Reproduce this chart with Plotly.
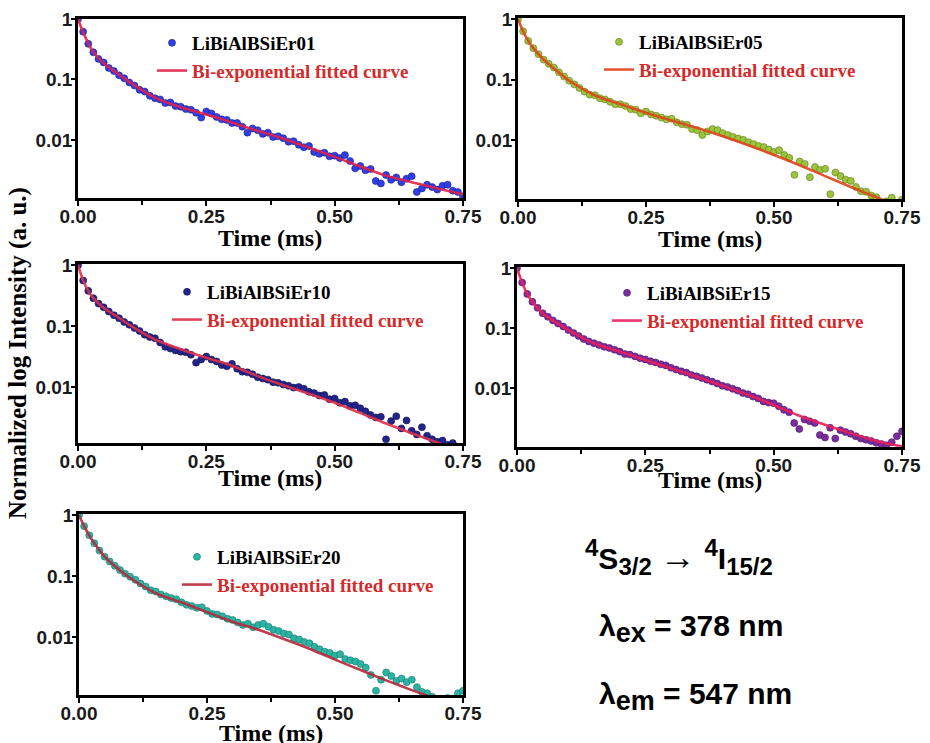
import plotly.graph_objects as go

W, H = 930, 743

# ---------------------------------------------------------------- data
time_ms = [
    0.00, 0.01, 0.02, 0.03, 0.04, 0.05, 0.06, 0.07, 0.08, 0.09,
    0.10, 0.11, 0.12, 0.13, 0.14, 0.15, 0.16, 0.17, 0.18, 0.19,
    0.20, 0.21, 0.22, 0.23, 0.24, 0.25, 0.26, 0.27, 0.28, 0.29,
    0.30, 0.31, 0.32, 0.33, 0.34, 0.35, 0.36, 0.37, 0.38, 0.39,
    0.40, 0.41, 0.42, 0.43, 0.44, 0.45, 0.46, 0.47, 0.48, 0.49,
    0.50, 0.51, 0.52, 0.53, 0.54, 0.55, 0.56, 0.57, 0.58, 0.59,
    0.60, 0.61, 0.62, 0.63, 0.64, 0.65, 0.66, 0.67, 0.68, 0.69,
    0.70, 0.71, 0.72, 0.73, 0.74, 0.75,
]

fit_time_ms = [0.0, 0.01, 0.02, 0.03, 0.05, 0.075, 0.10, 0.15, 0.20, 0.25,
               0.30, 0.35, 0.40, 0.45, 0.50, 0.55, 0.60, 0.65, 0.70, 0.75]

samples = ["LiBiAlBSiEr01", "LiBiAlBSiEr05", "LiBiAlBSiEr10",
           "LiBiAlBSiEr15", "LiBiAlBSiEr20"]
fit_label = "Bi-exponential fitted curve"

# normalised decay intensities (a. u.)
er01 = [1.0, 0.617, 0.389, 0.282, 0.219, 0.191, 0.155, 0.138, 0.117, 0.105,
        0.0891, 0.0794, 0.0676, 0.0631, 0.0537, 0.0490, 0.0468, 0.0407, 0.0417, 0.0363,
        0.0355, 0.0324, 0.0316, 0.0282, 0.0234, 0.0295, 0.0275, 0.0240, 0.0219, 0.0214,
        0.0191, 0.0191, 0.0166, 0.0132, 0.0155, 0.0145, 0.0126, 0.0132, 0.0112, 0.0115,
        0.0107, 0.00933, 0.00955, 0.00832, 0.00759, 0.00794, 0.00631, 0.00589, 0.00617, 0.00537,
        0.00550, 0.00501, 0.00562, 0.00447, 0.00339, 0.00372, 0.00316, 0.00331, 0.00209, 0.00191,
        0.00263, 0.00219, 0.00240, 0.00200, 0.00229, 0.00251, 0.00138, 0.00158, 0.00182, 0.00166,
        0.00151, 0.00174, 0.00182, 0.00145, 0.00138, 0.00117]

er05 = [1.0, 0.631, 0.437, 0.331, 0.263, 0.214, 0.182, 0.158, 0.132, 0.112,
        0.0955, 0.0832, 0.0724, 0.0631, 0.0562, 0.0550, 0.0490, 0.0468, 0.0427, 0.0389,
        0.0389, 0.0363, 0.0324, 0.0316, 0.0275, 0.0295, 0.0263, 0.0251, 0.0234, 0.0219,
        0.0224, 0.0195, 0.0182, 0.0178, 0.0151, 0.0145, 0.0120, 0.0138, 0.0151, 0.0145,
        0.0129, 0.0120, 0.0112, 0.0105, 0.0100, 0.00912, 0.00851, 0.00794, 0.00759, 0.00692,
        0.00631, 0.00676, 0.00562, 0.00501, 0.00263, 0.00437, 0.00398, 0.00240, 0.00355, 0.00316,
        0.00331, 0.00126, 0.00288, 0.00251, 0.00219, 0.00209, 0.00166, 0.00141, 0.00138, 0.00120,
        0.00112, 0.000891, 0.000955, 0.00110, 0.000794, 0.00102]

er10 = [1.0, 0.562, 0.380, 0.288, 0.234, 0.204, 0.174, 0.151, 0.135, 0.117,
        0.105, 0.0933, 0.0832, 0.0724, 0.0661, 0.0631, 0.0537, 0.0457, 0.0427, 0.0398,
        0.0380, 0.0372, 0.0339, 0.0251, 0.0282, 0.0316, 0.0282, 0.0263, 0.0229, 0.0219,
        0.0240, 0.0200, 0.0178, 0.0174, 0.0162, 0.0145, 0.0138, 0.0132, 0.0120, 0.0117,
        0.0110, 0.0105, 0.00977, 0.0100, 0.00933, 0.00832, 0.00794, 0.00724, 0.00741, 0.00631,
        0.00646, 0.00550, 0.00575, 0.00490, 0.00501, 0.00447, 0.00398, 0.00347, 0.00316, 0.00324,
        0.00138, 0.00275, 0.00331, 0.00209, 0.00282, 0.00191, 0.00166, 0.00219, 0.00158, 0.00138,
        0.00126, 0.00132, 0.00112, 0.00120, 0.00100, 0.000891]

er15 = [1.0, 0.575, 0.372, 0.275, 0.219, 0.178, 0.155, 0.135, 0.120, 0.107,
        0.0933, 0.0832, 0.0741, 0.0661, 0.0603, 0.0562, 0.0525, 0.0490, 0.0468, 0.0437,
        0.0407, 0.0372, 0.0363, 0.0339, 0.0316, 0.0302, 0.0282, 0.0269, 0.0251, 0.0240,
        0.0219, 0.0204, 0.0191, 0.0182, 0.0166, 0.0158, 0.0148, 0.0138, 0.0129, 0.0120,
        0.0110, 0.0105, 0.00977, 0.00912, 0.00832, 0.00794, 0.00724, 0.00676, 0.00603, 0.00575,
        0.00562, 0.00501, 0.00437, 0.00398, 0.00263, 0.00209, 0.00302, 0.00282, 0.00263, 0.00166,
        0.00151, 0.00219, 0.00145, 0.00200, 0.00186, 0.00174, 0.00158, 0.00145, 0.00138, 0.00132,
        0.00123, 0.00117, 0.00112, 0.00126, 0.00158, 0.00191]

er20 = [1.0, 0.661, 0.468, 0.347, 0.263, 0.209, 0.174, 0.148, 0.126, 0.110,
        0.0977, 0.0871, 0.0759, 0.0676, 0.0589, 0.0562, 0.0501, 0.0468, 0.0437, 0.0417,
        0.0372, 0.0339, 0.0324, 0.0302, 0.0309, 0.0269, 0.0240, 0.0234, 0.0219, 0.0200,
        0.0191, 0.0174, 0.0158, 0.0166, 0.0145, 0.0158, 0.0166, 0.0148, 0.0132, 0.0126,
        0.0115, 0.0110, 0.00955, 0.00912, 0.00832, 0.00794, 0.00692, 0.00631, 0.00575, 0.00550,
        0.00501, 0.00525, 0.00437, 0.00417, 0.00398, 0.00363, 0.00316, 0.00240, 0.00132, 0.00200,
        0.00263, 0.00229, 0.00191, 0.00209, 0.00182, 0.00200, 0.00151, 0.00126, 0.00120, 0.00105,
        0.000955, 0.000891, 0.00100, 0.000955, 0.00120, 0.00132]

# bi-exponential fits evaluated on fit_time_ms
fit_er01 = [1.0, 0.603, 0.398, 0.282, 0.186, 0.129, 0.0912, 0.0501, 0.0347, 0.0263,
            0.0195, 0.0141, 0.0105, 0.00741, 0.00525, 0.00363, 0.00257, 0.00200, 0.00158, 0.00126]
fit_er05 = [1.0, 0.631, 0.437, 0.331, 0.214, 0.141, 0.0955, 0.0550, 0.0389, 0.0282,
            0.0209, 0.0158, 0.0115, 0.00813, 0.00562, 0.00380, 0.00251, 0.00166, 0.00112, 0.000759]
fit_er10 = [1.0, 0.562, 0.380, 0.288, 0.200, 0.145, 0.105, 0.0603, 0.0417, 0.0302,
            0.0224, 0.0151, 0.0107, 0.00776, 0.00550, 0.00372, 0.00251, 0.00174, 0.00123, 0.000891]
fit_er15 = [1.0, 0.575, 0.372, 0.275, 0.178, 0.126, 0.0933, 0.0562, 0.0407, 0.0295,
            0.0214, 0.0155, 0.0110, 0.00776, 0.00525, 0.00347, 0.00245, 0.00178, 0.00132, 0.00107]
fit_er20 = [1.0, 0.661, 0.468, 0.347, 0.209, 0.135, 0.0933, 0.0525, 0.0372, 0.0257,
            0.0178, 0.0132, 0.00933, 0.00646, 0.00427, 0.00288, 0.00195, 0.00135, 0.000955, 0.000661]

measured = [er01, er05, er10, er15, er20]
fitted = [fit_er01, fit_er05, fit_er10, fit_er15, fit_er20]

x_tick_vals = [0.0, 0.25, 0.50, 0.75]
x_tick_text = ["0.00", "0.25", "0.50", "0.75"]
x_minor_vals = [0.125, 0.375, 0.625]
y_tick_vals = [0.01, 0.1, 1]
y_tick_text = ["0.01", "0.1", "1"]

# ---------------------------------------------------------------- layout
# panel frames in pixels: left, top, right, bottom
frames = [(78, 19, 463, 198), (518, 18, 902, 199), (78, 264, 463, 443),
          (517, 267, 902, 447), (79, 514, 463, 695)]
y_ranges = [(-2.96, 0.0), (-2.98, 0.02), (-2.92, 0.02), (-2.98, 0.02), (-2.95, 0.02)]
marker_colors = ["#2f3fe6", "#9cc43a", "#22268c", "#7a2e9e", "#2db3a3"]
marker_edges = ["#1a1f8a", "#5d7a1c", "#10124a", "#4a1566", "#147a6e"]
fit_colors = ["#e0224a", "#e0441e", "#e0304a", "#ea1f5c", "#b8283a"]
# legend anchor (left, top) in pixels
legend_px = [(152, 24), (599, 23), (167, 273), (607, 274), (177, 538)]
# centre of the "Time (ms)" titles in pixels
xtitle_px = [(270, 238), (710, 239), (270, 478), (710, 480), (271, 733)]

SERIF = "Liberation Serif"
SANS = "Liberation Sans"
LEGEND_RED = "#d42a2a"


def fx(p):
    return p / W


def fy(p):
    return 1 - p / H


fig = go.Figure()
layout = dict(
    width=W, height=H,
    margin=dict(l=0, r=0, t=0, b=0, autoexpand=False),
    paper_bgcolor="white", plot_bgcolor="white",
    showlegend=True,
)

annotations = []
for i in range(5):
    n = "" if i == 0 else str(i + 1)
    xa_name, ya_name = "x" + n, "y" + n
    leg = "legend" + n
    left, top, right, bottom = frames[i]

    fig.add_trace(go.Scatter(
        x=time_ms, y=measured[i], mode="markers", name=samples[i],
        marker=dict(size=7, color=marker_colors[i],
                    line=dict(width=0.6, color=marker_edges[i])),
        xaxis=xa_name, yaxis=ya_name, legend=leg,
    ))
    fig.add_trace(go.Scatter(
        x=fit_time_ms, y=fitted[i], mode="lines",
        name=f'<span style="color:{LEGEND_RED}">{fit_label}</span>',
        line=dict(color=fit_colors[i], width=2.6, shape="spline", smoothing=0.8),
        opacity=0.9,
        xaxis=xa_name, yaxis=ya_name, legend=leg,
    ))

    layout["xaxis" + n] = dict(
        domain=[fx(left), fx(right)], anchor=ya_name,
        range=[0, 0.75], tickmode="array", tickvals=x_tick_vals, ticktext=x_tick_text,
        ticks="outside", ticklen=5, tickwidth=2, tickcolor="black",
        ticklabelstandoff=-6,
        minor=dict(tickmode="array", tickvals=x_minor_vals, ticks="outside",
                   ticklen=4, tickwidth=2, tickcolor="black", showgrid=False),
        showline=True, mirror=True, linewidth=2.5, linecolor="black",
        showgrid=False, zeroline=False,
        tickfont=dict(family=SANS, size=19, weight="bold", color="#1a1a1a"),
    )
    layout["yaxis" + n] = dict(
        domain=[fy(bottom), fy(top)], anchor=xa_name,
        type="log", range=list(y_ranges[i]),
        tickmode="array", tickvals=y_tick_vals, ticktext=y_tick_text,
        ticks="outside", ticklen=4, tickwidth=2, tickcolor="black",
        ticklabelstandoff=-5,
        showline=True, mirror=True, linewidth=2.5, linecolor="black",
        showgrid=False, zeroline=False,
        tickfont=dict(family=SANS, size=19, weight="bold", color="#1a1a1a"),
    )
    lx, ly = legend_px[i]
    layout[leg] = dict(
        x=fx(lx), y=fy(ly), xanchor="left", yanchor="top",
        bgcolor="rgba(0,0,0,0)", borderwidth=0,
        font=dict(family=SERIF, size=19, weight="bold", color="black"),
        itemwidth=30, tracegroupgap=0, itemsizing="trace",
    )
    tx, ty = xtitle_px[i]
    annotations.append(dict(
        text="Time (ms)", x=fx(tx), y=fy(ty), xref="paper", yref="paper",
        xanchor="center", yanchor="middle", showarrow=False,
        font=dict(family=SERIF, size=24, weight="bold", color="black"),
    ))

annotations.append(dict(
    text="Normalized log Intensity (a. u.)", x=fx(18), y=fy(353),
    xref="paper", yref="paper", xanchor="center", yanchor="middle",
    textangle=-90, showarrow=False,
    font=dict(family=SERIF, size=25, weight="bold", color="black"),
))

# transition and wavelength notes
SUB = '<span style="font-size:24px">{}</span>'
ARROW = '<span style="font-size:36px;font-weight:normal">\u2192</span>'
notes = [
    ("<sup>" + SUB.format("4") + "</sup>S<sub>" + SUB.format("3/2") + "</sub> "
     + ARROW + " <sup>" + SUB.format("4") + "</sup>I<sub>" + SUB.format("15/2") + "</sub>",
     583, 557),
    ('\u03bb<sub><span style="font-size:27px">ex</span></sub> = 378 nm', 597, 628),
    ('\u03bb<sub><span style="font-size:27px">em</span></sub> = 547 nm', 597, 696),
]
for text, px, py in notes:
    annotations.append(dict(
        text=text, x=fx(px), y=fy(py), xref="paper", yref="paper",
        xanchor="left", yanchor="middle", showarrow=False,
        font=dict(family=SANS, size=30, weight="bold", color="black"),
    ))

layout["annotations"] = annotations
fig.update_layout(**layout)
fig.write_html("out.html")
